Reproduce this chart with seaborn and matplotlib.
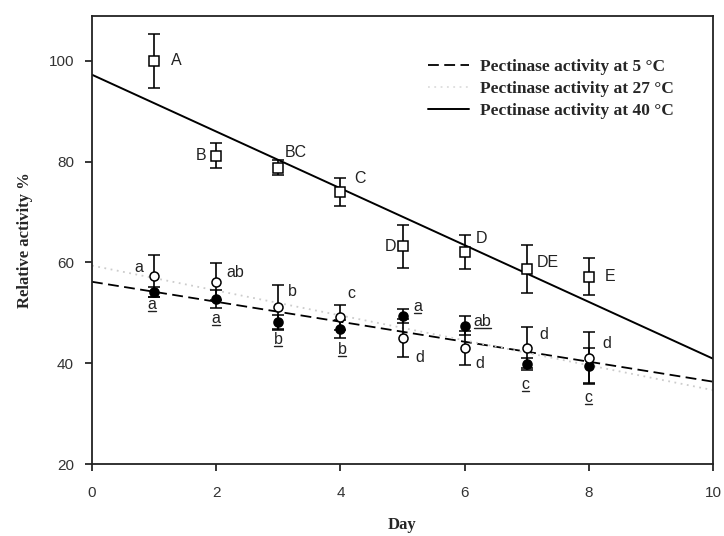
import numpy as np
import pandas as pd
import matplotlib
matplotlib.use("Agg")
import matplotlib.pyplot as plt
import seaborn as sns
from matplotlib.lines import Line2D
from matplotlib.transforms import IdentityTransform

# ---------------- data ----------------
days = [1, 2, 3, 4, 5, 6, 7, 8]
act_40 = [100.0, 81.2, 78.8, 74.0, 63.2, 62.0, 58.7, 57.2]
err_40 = [5.3, 2.4, 1.5, 2.8, 4.3, 3.4, 4.7, 3.6]
act_27 = [57.3, 56.2, 51.2, 49.1, 45.0, 43.0, 43.1, 41.1]
err_27 = [4.2, 3.7, 4.4, 2.5, 3.7, 3.3, 4.0, 5.0]
act_5 = [54.2, 52.7, 48.1, 46.8, 49.3, 47.4, 39.9, 39.5]
err_5 = [1.0, 1.8, 1.5, 1.8, 1.4, 1.9, 1.2, 3.6]
letters_40 = ["A", "B", "BC", "C", "D", "D", "DE", "E"]
letters_27 = ["a", "ab", "b", "c", "d", "d", "d", "d"]
letters_5 = ["a", "a", "b", "b", "a", "ab", "c", "c"]
legend_labels = ["Pectinase activity at 5 \u00b0C",
                 "Pectinase activity at 27 \u00b0C",
                 "Pectinase activity at 40 \u00b0C"]
x_ticks = [0, 2, 4, 6, 8, 10]
y_ticks = [20, 40, 60, 80, 100]
x_label = "Day"
y_label = "Relative activity %"

# ---------------- style ----------------
off_40 = [(22, 0), (-15, 0), (18, 15), (20, 13), (-12, 0), (17, 14), (21, 6), (21, 0)]
off_27 = [(-15, 9), (19, 9), (14, 15), (11, 24), (17, -19), (15, -15), (17, 13), (18, 14)]
off_5 = [(-2, -13), (0, -19), (0, -17), (2, -21), (15, 10), (18, 4), (-1, -21), (0, -32)]

sns.set_style("ticks")
plt.rcParams["font.family"] = ["Liberation Sans", "DejaVu Sans"]

fig = plt.figure(figsize=(7.24, 5.36), dpi=100)
ax = fig.add_axes([92 / 724, 1 - 464 / 536, (713 - 92) / 724, (464 - 16) / 536])
ax.set_xlim(0, 10)
ax.set_ylim(20, 108.9)

df = pd.DataFrame({"day": days, "a40": act_40, "a27": act_27, "a5": act_5})

# regression lines
sns.regplot(data=df, x="day", y="a5", ax=ax, scatter=False, ci=None, truncate=False,
            line_kws=dict(color="black", lw=1.3, ls=(0, (6, 3))))
sns.regplot(data=df, x="day", y="a27", ax=ax, scatter=False, ci=None, truncate=False,
            line_kws=dict(color="#cccccc", lw=1.3, ls=(0, (1, 2.5))))
sns.regplot(data=df, x="day", y="a40", ax=ax, scatter=False, ci=None, truncate=False,
            line_kws=dict(color="black", lw=1.4, ls="-"))

ekw = dict(ecolor="black", elinewidth=1.2, capsize=4.5, capthick=1.2, ls="none")
ax.errorbar(days, act_40, yerr=err_40, marker="s", ms=6.5, mfc="white", mec="black",
            mew=1.1, zorder=4, **ekw)
ax.errorbar(days, act_5, yerr=err_5, marker="o", ms=6.5, mfc="black", mec="black",
            mew=1.1, zorder=4, **ekw)
ax.errorbar(days, act_27, yerr=err_27, marker="o", ms=6.5, mfc="white", mec="black",
            mew=1.1, zorder=5, **ekw)

tkw = dict(textcoords="offset pixels", ha="center", va="center", fontsize=11.5,
           color="#222222", family=["Liberation Sans", "DejaVu Sans"])
for d, v, t, o in zip(days, act_40, letters_40, off_40):
    ax.annotate(t, (d, v), xytext=o, **tkw)
for d, v, t, o in zip(days, act_27, letters_27, off_27):
    ax.annotate(t, (d, v), xytext=o, **tkw)
underlined = []
for d, v, t, o in zip(days, act_5, letters_5, off_5):
    underlined.append(ax.annotate(t, (d, v), xytext=o, **tkw))

ax.set_xticks(x_ticks)
ax.set_yticks(y_ticks)
ax.tick_params(direction="out", length=5, width=1.1, labelsize=11, colors="black",
               labelcolor="#333333")
ax.tick_params(axis="y", pad=8)
ax.tick_params(axis="x", pad=11)
for s in ax.spines.values():
    s.set_linewidth(1.3)
    s.set_color("#222222")

ax.set_xlabel(x_label, fontsize=12, fontweight="bold", family="Liberation Serif", labelpad=12)
ax.set_ylabel(y_label, fontsize=12, fontweight="bold", family="Liberation Serif", labelpad=11)

handles = [Line2D([], [], color="black", lw=1.3, ls=(0, (6, 3))),
           Line2D([], [], color="#dddddd", lw=1.3, ls=(0, (1, 2.5))),
           Line2D([], [], color="black", lw=1.4, ls="-")]
ax.legend(handles, legend_labels, loc="upper right", bbox_to_anchor=(0.962, 0.94),
          frameon=False, handlelength=2.4, handletextpad=0.6, labelspacing=0.35,
          prop=dict(family="Liberation Serif", weight="bold", size=12.5))

# underline the letters of the 5 °C series
fig.canvas.draw()
renderer = fig.canvas.get_renderer()
for t in underlined:
    bb = t.get_window_extent(renderer)
    fig.add_artist(Line2D([bb.x0 + 0.5, bb.x1 - 0.5], [bb.y0 + 1, bb.y0 + 1],
                          transform=IdentityTransform(), color="#222222", lw=1.0))

fig.savefig("out.png", dpi=100)
